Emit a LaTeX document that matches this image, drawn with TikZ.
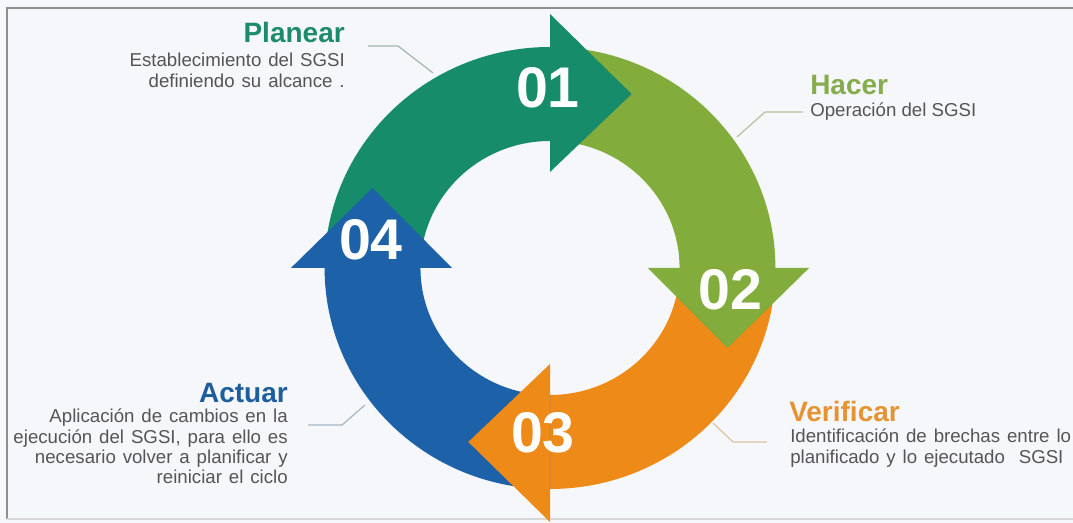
\documentclass[tikz,border=0pt]{standalone}
\usepackage{fontspec}
\setmainfont{Liberation Sans}
\definecolor{bgcol}{HTML}{F5F7FA}
\definecolor{framecol}{HTML}{8E8E8E}
\definecolor{cgreen}{HTML}{178C6A}
\definecolor{colive}{HTML}{82AC3C}
\definecolor{corange}{HTML}{EE8A18}
\definecolor{cblue}{HTML}{1D62A8}
\definecolor{tgreen}{HTML}{1E8C6C}
\definecolor{tolive}{HTML}{86AC4E}
\definecolor{torange}{HTML}{E59433}
\definecolor{tblue}{HTML}{1E5E9C}
\definecolor{descgray}{HTML}{555555}
\definecolor{lgreen}{HTML}{9FB5AC}
\definecolor{lolive}{HTML}{B2C49A}
\definecolor{lorange}{HTML}{DCC3A0}
\definecolor{lblue}{HTML}{A8B5C3}
\newcommand\widespaces{\spaceskip=0.37em plus 0.05em\relax}
\begin{document}
\begin{tikzpicture}[x=0.75pt,y=0.75pt,
  title/.style={font=\fontsize{21}{24}\selectfont\bfseries, inner sep=0pt},
  desc/.style={font=\fontsize{14}{15.2}\selectfont, text=descgray, inner sep=0pt},
  num/.style={font=\fontsize{43}{46}\selectfont\bfseries, text=white, inner sep=0pt},
  lead/.style={line width=0.9pt, line join=round}]
\fill[bgcol] (0,0) rectangle (1073,523);
\useasboundingbox (0,0) rectangle (1073,523);
\draw[framecol, line width=1.5pt] (1080,515) -- (7,515) -- (7,4);
\draw[framecol!35, line width=1pt] (7,4) -- (1080,4);
% ring
\begin{scope}[shift={(550,255)}, xscale=1.02]
  \foreach \a/\c in {90/cgreen,0/colive,-90/corange,180/cblue}{
    \pgfmathsetmacro{\s}{\a+90}
    \fill[\c] (\s:221) arc[start angle=\s, end angle=\a, radius=221]
      -- (\a:127) arc[start angle=\a, end angle=\s, radius=127] -- cycle;
  }
  \foreach \a/\c in {90/cgreen,0/colive,-90/corange,180/cblue}{
    \pgfmathsetmacro{\t}{\a-24.7}
    \fill[\c] (\a:254) -- (\a:96) -- (\t:191.5) -- cycle;
  }
\end{scope}
% numbers
\node[num] (n1) at (548,435) {01};
\node[num] (n2) at (730,233) {02};
\node[num] (n3) at (543,90) {03};
\node[num] (n4) at (371,283) {04};
% texts
\node[title, text=tgreen, anchor=base east] (planT) at (345,480) {Planear};
\node[desc, anchor=base east] (planD) at (345,456)
  {\widespaces\begin{tabular}[t]{@{}r@{}}Establecimiento del SGSI\\ definiendo su alcance .\end{tabular}};
\node[title, text=tolive, anchor=base west] (hacT) at (810,428) {Hacer};
\node[desc, anchor=base west] (hacD) at (810,406) {Operación del SGSI};
\node[title, text=torange, anchor=base west] (verT) at (789,101) {Verificar};
\node[desc, anchor=base west] (verD) at (790,80)
  {\widespaces\begin{tabular}[t]{@{}l@{}}Identificación de brechas entre lo\\ planificado y lo ejecutado~~SGSI\end{tabular}};
\node[title, text=tblue, anchor=base east] (actT) at (288,120) {Actuar};
\node[desc, anchor=base east] (actD) at (288,100)
  {\widespaces\begin{tabular}[t]{@{}r@{}}Aplicación de cambios en la\\ ejecución del SGSI, para ello es\\ necesario volver a planificar y\\ reiniciar el ciclo\end{tabular}};
% leader lines
\coordinate (pl1) at (368,477); \coordinate (pl2) at (398,477); \coordinate (pl3) at (433,450);
\coordinate (ha1) at (803,411); \coordinate (ha2) at (765,411); \coordinate (ha3) at (737,386);
\coordinate (ve1) at (767,81);  \coordinate (ve2) at (733,81);  \coordinate (ve3) at (713,100);
\coordinate (ac1) at (308,98);  \coordinate (ac2) at (342,98);  \coordinate (ac3) at (365,118);
\draw[lead, draw=lgreen] (pl1) -- (pl2) -- (pl3);
\draw[lead, draw=lolive] (ha1) -- (ha2) -- (ha3);
\draw[lead, draw=lorange] (ve1) -- (ve2) -- (ve3);
\draw[lead, draw=lblue] (ac1) -- (ac2) -- (ac3);
\end{tikzpicture}
\end{document}
